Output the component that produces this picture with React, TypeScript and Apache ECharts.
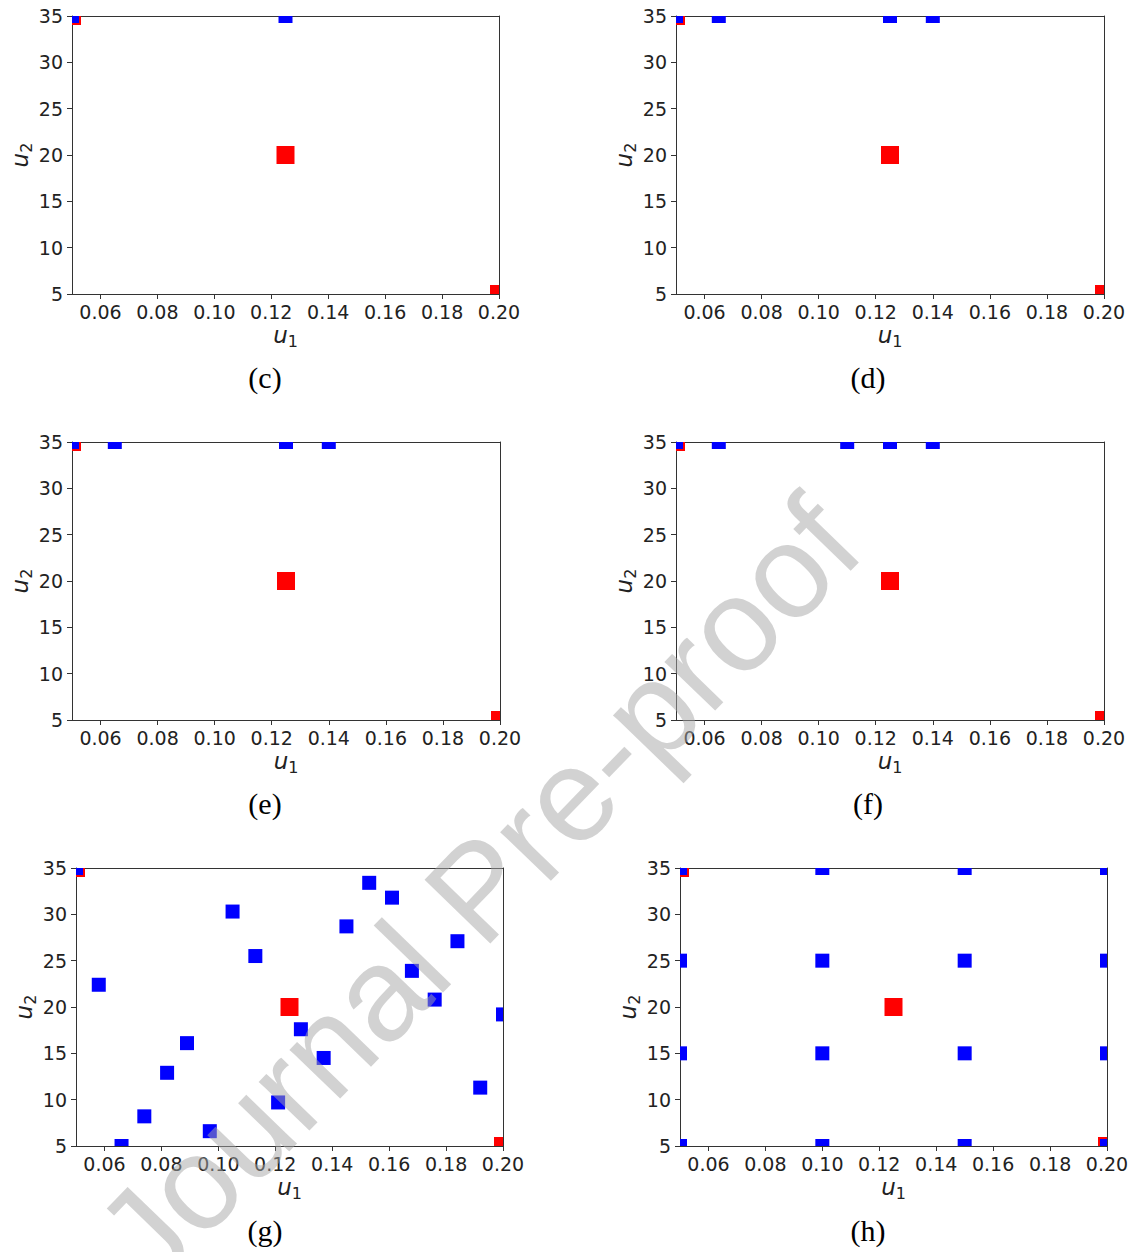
import React, { useEffect, useRef } from 'react';
import * as echarts from 'echarts';

// ---- data ----
const PANEL_LABELS = ['(c)', '(d)', '(e)', '(f)', '(g)', '(h)'];
const X_TICKS = [0.06, 0.08, 0.1, 0.12, 0.14, 0.16, 0.18, 0.2];
const U1_MIN = 0.05;
const U1_MAX = 0.2;
const U2_MIN = 5;
const U2_MAX = 35;
const U2_STEP = 5;

const RED_U1 = [0.05, 0.125, 0.2];
const RED_U2 = [35, 20, 5];

const C_U1 = [0.05, 0.125];
const C_U2 = [35, 35];
const D_U1 = [0.05, 0.065, 0.125, 0.14];
const D_U2 = [35, 35, 35, 35];
const E_U1 = [0.05, 0.065, 0.125, 0.14];
const E_U2 = [35, 35, 35, 35];
const F_U1 = [0.05, 0.065, 0.11, 0.125, 0.14];
const F_U2 = [35, 35, 35, 35, 35];
const G_U1 = [0.05, 0.058, 0.066, 0.074, 0.082, 0.089, 0.097, 0.105, 0.113, 0.121, 0.129, 0.137, 0.145, 0.153, 0.161, 0.168, 0.176, 0.184, 0.192, 0.2];
const G_U2 = [35, 22.4, 5, 8.2, 12.9, 16.1, 6.6, 30.3, 25.5, 9.7, 17.6, 14.5, 28.7, 33.4, 31.8, 23.9, 20.8, 27.1, 11.3, 19.2];
const H_U1 = [0.05, 0.05, 0.05, 0.05, 0.1, 0.1, 0.1, 0.1, 0.15, 0.15, 0.15, 0.15, 0.2, 0.2, 0.2, 0.2];
const H_U2 = [5, 15, 25, 35, 5, 15, 25, 35, 5, 15, 25, 35, 5, 15, 25, 35];

const BLUE_U1 = [C_U1, D_U1, E_U1, F_U1, G_U1, H_U1];
const BLUE_U2 = [C_U2, D_U2, E_U2, F_U2, G_U2, H_U2];

// ---- layout ----
const GRIDS = [
  { left: 72, top: 16, width: 427, height: 278 },
  { left: 676, top: 16, width: 428, height: 278 },
  { left: 72, top: 442, width: 428, height: 278 },
  { left: 676, top: 442, width: 428, height: 278 },
  { left: 76, top: 868, width: 427, height: 278 },
  { left: 680, top: 868, width: 427, height: 278 },
];
const CAPTION_POS = [
  [265, 377], [868, 377], [265, 803], [868, 803], [265, 1230], [868, 1230],
];

const AXIS_COLOR = '#333';
const TEXT_COLOR = '#222';
const TICK_FONT = 'DejaVu Sans';
const RED = '#ff0000';
const BLUE = '#0000ff';
const RED_SIZE = 18;
const BLUE_SIZE = 14;

function nameRich() {
  return {
    i: { fontFamily: TICK_FONT, fontStyle: 'italic', fontSize: 23, lineHeight: 23, verticalAlign: 'top', color: TEXT_COLOR },
    s: { fontFamily: TICK_FONT, fontSize: 16, lineHeight: 26, verticalAlign: 'bottom', color: TEXT_COLOR },
  };
}

function squareSeries(xs: number[], ys: number[], idx: number, color: string, size: number, z: number) {
  return {
    type: 'custom',
    xAxisIndex: idx * 2,
    yAxisIndex: idx * 2,
    clip: false,
    z,
    encode: { x: 0, y: 1 },
    data: xs.map((x, i) => [x, ys[i]]),
    renderItem: (params: any, api: any) => {
      const p = api.coord([api.value(0), api.value(1)]);
      const cs = params.coordSys;
      const r = echarts.graphic.clipRectByRect(
        { x: p[0] - size / 2, y: p[1] - size / 2, width: size, height: size },
        { x: cs.x, y: cs.y, width: cs.width, height: cs.height }
      );
      if (!r) return null;
      return { type: 'rect', shape: r, style: { fill: color } };
    },
  };
}

export default function App() {
  const ref = useRef<HTMLDivElement>(null);
  useEffect(() => {
    if (!ref.current) return;
    const chart = echarts.init(ref.current, null, { renderer: 'svg' });
    const grid: any[] = [];
    const xAxis: any[] = [];
    const yAxis: any[] = [];
    const series: any[] = [];
    const graphic: any[] = [];

    GRIDS.forEach((g, k) => {
      grid.push({ ...g, show: false });
      xAxis.push({
        type: 'value', gridIndex: k, min: U1_MIN, max: U1_MAX, position: 'bottom',
        name: '{i|u}{s|1}', nameLocation: 'middle', nameGap: 29,
        nameTextStyle: { rich: nameRich() },
        axisLine: { show: true, onZero: false, lineStyle: { color: AXIS_COLOR, width: 1 } },
        axisTick: { show: true, length: 5, customValues: X_TICKS, lineStyle: { color: AXIS_COLOR } },
        axisLabel: {
          show: true, customValues: X_TICKS, margin: 8, color: TEXT_COLOR,
          fontFamily: TICK_FONT, fontSize: 19, formatter: (v: number) => v.toFixed(2),
        },
        splitLine: { show: false },
      });
      xAxis.push({
        type: 'value', gridIndex: k, min: U1_MIN, max: U1_MAX, position: 'top',
        axisLine: { show: true, onZero: false, lineStyle: { color: AXIS_COLOR, width: 1 } },
        axisTick: { show: false }, axisLabel: { show: false }, splitLine: { show: false },
      });
      yAxis.push({
        type: 'value', gridIndex: k, min: U2_MIN, max: U2_MAX, interval: U2_STEP, position: 'left',
        name: '{i|u}{s|2}', nameLocation: 'middle', nameGap: 38, nameRotate: 90,
        nameTextStyle: { rich: nameRich() },
        axisLine: { show: true, onZero: false, lineStyle: { color: AXIS_COLOR, width: 1 } },
        axisTick: { show: true, length: 5, lineStyle: { color: AXIS_COLOR } },
        axisLabel: { show: true, margin: 9, color: TEXT_COLOR, fontFamily: TICK_FONT, fontSize: 19 },
        splitLine: { show: false },
      });
      yAxis.push({
        type: 'value', gridIndex: k, min: U2_MIN, max: U2_MAX, interval: U2_STEP, position: 'right',
        axisLine: { show: true, onZero: false, lineStyle: { color: AXIS_COLOR, width: 1 } },
        axisTick: { show: false }, axisLabel: { show: false }, splitLine: { show: false },
      });

      series.push(squareSeries(RED_U1, RED_U2, k, RED, RED_SIZE, 2));
      series.push(squareSeries(BLUE_U1[k], BLUE_U2[k], k, BLUE, BLUE_SIZE, 3));

      graphic.push({
        type: 'text', x: CAPTION_POS[k][0], y: CAPTION_POS[k][1], z: 50,
        style: {
          text: PANEL_LABELS[k], fontFamily: 'Liberation Serif', fontSize: 30,
          fill: '#000', align: 'center', verticalAlign: 'middle',
        },
      });
    });

    graphic.push({
      type: 'text', x: 478, y: 890, rotation: (46 * Math.PI) / 180, z: 200,
      style: {
        text: 'Journal Pre-proof', fontFamily: 'Liberation Sans', fontSize: 133,
        fill: 'rgba(165,165,165,0.5)', align: 'center', verticalAlign: 'middle',
      },
    });

    chart.setOption({
      animation: false,
      backgroundColor: '#fff',
      grid, xAxis, yAxis, series,
      graphic: { elements: graphic },
    });
    return () => chart.dispose();
  }, []);
  return (
    <div
      ref={ref}
      style={{ position: 'absolute', left: 0, top: 0, width: 1133, height: 1252 }}
    />
  );
}
